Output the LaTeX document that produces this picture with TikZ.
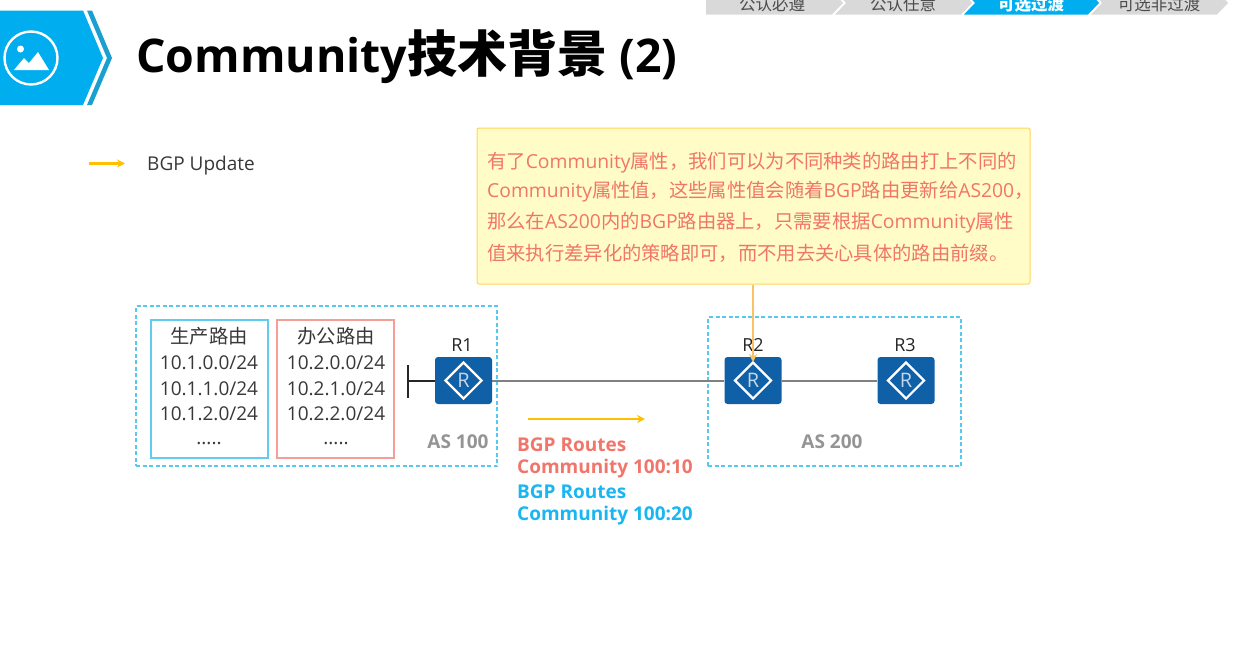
\documentclass[tikz,border=0pt]{standalone}
\usepackage{fontspec}
\setmainfont{Open Sans}
\newfontfamily\cjk{Noto Sans CJK SC}
\usetikzlibrary{shapes.geometric,arrows.meta}

\definecolor{hwblue}{HTML}{00AEEF}
\definecolor{hwroute}{HTML}{1060A8}
\definecolor{hwyellow}{HTML}{FFC000}
\definecolor{hwred}{HTML}{F0756B}
\definecolor{hwdash}{HTML}{45C3EC}
\definecolor{tabgray}{HTML}{D9D9D9}
\definecolor{notearrow}{HTML}{F9C264}

\newcommand{\fs}[1]{\fontsize{#1}{#1}\selectfont}

\tikzset{
  router/.style={draw=none, fill=hwroute, rounded corners=3pt, minimum width=57pt, minimum height=47pt, inner sep=0pt},
  routermark/.style={diamond, draw=white, line width=2.2pt, minimum width=37pt, minimum height=37pt, inner sep=0pt, text=white!75!hwroute, font=\fs{20}},
  routerlabel/.style={text=black!85, font=\fs{18}},
  aslabel/.style={text=black!42, font=\bfseries\fs{19}},
  asbox/.style={draw=hwdash!90!white, line width=1.1pt, dash pattern=on 4pt off 2.5pt},
  listtext/.style={text=black!78, font=\fs{19}},
  listzh/.style={text=black!78, font=\cjk\fs{19.3}},
  listbox/.style={fill=white, line width=1.1pt, minimum width=117pt, minimum height=138pt, inner sep=0pt},
  communityred/.style={anchor=west, inner sep=0pt, text=hwred, font=\bfseries\fs{19}},
  communityblue/.style={anchor=west, inner sep=0pt, text=hwblue!90!white, font=\bfseries\fs{19}},
  notetext/.style={anchor=west, inner sep=0pt, text=hwred, font=\fs{19.3}},
  tabtext/.style={text=black!70, font=\cjk\fs{16.5}},
  link/.style={draw=black!50, line width=2pt},
  update/.style={draw=hwyellow, line width=2.2pt, -{Stealth[length=8pt,width=8pt]}},
}

\begin{document}
\begin{tikzpicture}[x=1pt, y=-1pt, >=stealth]
  \clip (0,0) rectangle (1260,670);

  % 顶部导航
  \fill[tabgray] (706,-10) -- (706,14.5) -- (832,14.5) -- (843,3) -- (832,-10) -- cycle;
  \fill[tabgray] (835,-10) -- (846,3) -- (835,14.5) -- (961,14.5) -- (972,3) -- (961,-10) -- cycle;
  \fill[hwblue] (964,-10) -- (975,3) -- (964,14.5) -- (1088,14.5) -- (1099,3) -- (1088,-10) -- cycle;
  \fill[tabgray] (1091,-10) -- (1102,3) -- (1091,14.5) -- (1217,14.5) -- (1228,3) -- (1217,-10) -- cycle;
  \node[tabtext] (tabA) at (772,4) {公认必遵};
  \node[tabtext] (tabB) at (903,4) {公认任意};
  \node[tabtext, text=white, font=\cjk\bfseries\fs{16.5}] (tabC) at (1031,4) {可选过渡};
  \node[tabtext] (tabD) at (1159,4) {可选非过渡};

  % 标题图标
  \fill[hwblue] (0,10.5) -- (83,10.5) -- (103,58) -- (83,105) -- (0,105) -- cycle;
  \fill[hwblue!85!black!90!white] (87,10.5) -- (92,10.5) -- (112,58) -- (92,105) -- (87,105) -- (107,58) -- cycle;
  \draw[white, line width=2.4pt] (31,58) circle (26.5);
  \fill[white] (20.5,49) circle (3.5);
  \fill[white] (14,70) -- (24,58) -- (29,63) -- (38,52) -- (49,70) -- cycle;
  \node[anchor=base west, inner sep=0pt, font=\bfseries\fs{46.4}] (title) at (136,72) {Community{\cjk\fs{50}技术背景} (2)};

  % 图例
  \coordinate (legendA) at (89,163.5);
  \coordinate (legendB) at (125,163.5);
  \draw[update] (legendA) -- (legendB);
  \node[anchor=west, inner sep=0pt, text=black!78, font=\fs{19}] (legend) at (147,166) {BGP Update};

  % AS 区域
  \node[asbox, minimum width=361pt, minimum height=160pt, inner sep=0pt] (as100) at (316.5,386) {};
  \node[asbox, minimum width=253pt, minimum height=149pt, inner sep=0pt] (as200) at (834.5,391.5) {};
  \node[aslabel] (as100label) at (458,442) {AS 100};
  \node[aslabel] (as200label) at (832,442) {AS 200};

  % 路由列表
  \node[listbox, draw=hwdash!85!white] (listA) at (209.5,389) {};
  \node[listbox, draw=hwred!70!white] (listB) at (335.5,389) {};
  \node[listzh] (listA0) at (209,336) {生产路由};
  \node[listtext] (listA1) at (209,363) {10.1.0.0/24};
  \node[listtext] (listA2) at (209,389) {10.1.1.0/24};
  \node[listtext] (listA3) at (209,414) {10.1.2.0/24};
  \node[listtext] (listA4) at (209,444) {.....};
  \node[listzh] (listB0) at (336,336) {办公路由};
  \node[listtext] (listB1) at (336,363) {10.2.0.0/24};
  \node[listtext] (listB2) at (336,389) {10.2.1.0/24};
  \node[listtext] (listB3) at (336,414) {10.2.2.0/24};
  \node[listtext] (listB4) at (336,444) {.....};

  % 路由器
  \node[router] (R1) at (463.5,380.5) {};
  \node[router] (R2) at (753,380.5) {};
  \node[router] (R3) at (906,380.5) {};
  \foreach \r in {R1,R2,R3} {
    \node[routermark] (\r mark) at (\r) {R};
  }
  \node[routerlabel] (R1label) at (462,345) {R1};
  \node[routerlabel] (R2label) at (753,345) {R2};
  \node[routerlabel] (R3label) at (905,345) {R3};

  % 链路
  \draw[link] (R1.east) -- (R2.west);
  \draw[link] (R2.east) -- (R3.west);
  \coordinate (stub) at (408,380.5);
  \coordinate (stubA) at (408,365);
  \coordinate (stubB) at (408,398);
  \draw[black!85, line width=2pt] (R1.west) -- (stub);
  \draw[black!85, line width=2pt] (stubA) -- (stubB);

  % 说明框
  \node[draw=hwyellow!65!white, fill=yellow!22!white, rounded corners=2pt, line width=1pt, minimum width=553pt, minimum height=156pt, inner sep=0pt] (note) at (753.5,206) {};
  \node[notetext] (noteA) at (487,162.5) {{\cjk 有了}Community{\cjk 属性，我们可以为不同种类的路由打上不同的}};
  \node[notetext] (noteB) at (487,192) {Community{\cjk 属性值，这些属性值会随着}BGP{\cjk 路由更新给}AS200{\cjk ，}};
  \node[notetext] (noteC) at (487,223) {{\cjk 那么在}AS200{\cjk 内的}BGP{\cjk 路由器上，只需要根据}Community{\cjk 属性}};
  \node[notetext] (noteD) at (487,253.5) {{\cjk 值来执行差异化的策略即可，而不用去关心具体的路由前缀。}};
  \coordinate (R2tip) at (753,362);
  \draw[update, draw=notearrow, fill=notearrow, line width=2.6pt] (note.south -| R2tip) -- (R2tip);

  % 更新方向
  \coordinate (updateA) at (528,419);
  \coordinate (updateB) at (645,419);
  \draw[update, line width=1.8pt] (updateA) -- (updateB);
  \node[communityred] (routesA) at (517,445) {BGP Routes};
  \node[communityred] (commA) at (517,469) {Community 100:10};
  \node[communityblue] (routesB) at (517,492) {BGP Routes};
  \node[communityblue] (commB) at (517,516) {Community 100:20};

\end{tikzpicture}
\end{document}
